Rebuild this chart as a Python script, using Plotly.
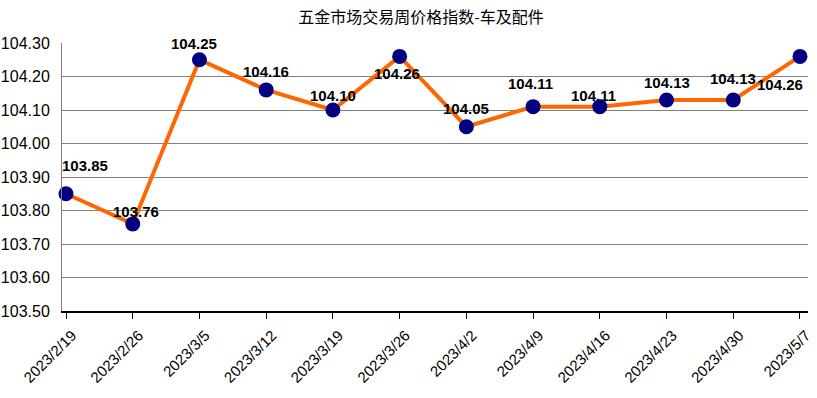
import plotly.graph_objects as go

dates = ["2023/2/19", "2023/2/26", "2023/3/5", "2023/3/12", "2023/3/19", "2023/3/26",
         "2023/4/2", "2023/4/9", "2023/4/16", "2023/4/23", "2023/4/30", "2023/5/7"]
values = [103.85, 103.76, 104.25, 104.16, 104.10, 104.26,
          104.05, 104.11, 104.11, 104.13, 104.13, 104.26]
y_ticks = [103.50, 103.60, 103.70, 103.80, 103.90, 104.00, 104.10, 104.20, 104.30]

# label offsets (pixels) relative to each point
label_dx = [19, 3, -5, 0, 0, -3, 0, -3, -6, 0, 0, -20]
label_dy = [28, 12, 16, 18, 15, -17, 18, 23, 11, 17, 21, -28]

xs = list(range(len(dates)))

fig = go.Figure()
fig.add_trace(go.Scatter(
    x=xs, y=values, mode="lines+markers",
    line=dict(color="#FF6600", width=4),
    marker=dict(color="#000080", size=15),
    hoverinfo="skip", showlegend=False, cliponaxis=False,
))

for i, v in enumerate(values):
    fig.add_annotation(
        x=xs[i], y=v, text=f"<b>{v:.2f}</b>", showarrow=False,
        xshift=label_dx[i], yshift=label_dy[i],
        font=dict(family="Liberation Sans, Arial", size=15, color="#000000"),
    )

fig.update_layout(
    width=817, height=398,
    margin=dict(l=62, r=9, t=43, b=87, autoexpand=False),
    paper_bgcolor="white", plot_bgcolor="white",
    title=dict(text="五金市场交易周价格指数-车及配件", x=421 / 817, xanchor="center",
               xref="container", y=1 - 17 / 398, yanchor="middle",
               font=dict(family="Noto Sans CJK SC", size=16, color="#000000")),
    xaxis=dict(
        tickmode="array", tickvals=xs, ticktext=dates, tickangle=-45,
        range=[-0.06, 11.12], showgrid=False, zeroline=False, automargin=False,
        showline=True, linecolor="#000000", linewidth=1.5,
        ticks="outside", ticklen=6, tickcolor="#000000",
        ticklabelshift=6, ticklabelstandoff=2, ticklabeloverflow="allow",
        tickfont=dict(family="Liberation Sans, Arial", size=15, color="#000000"),
    ),
    yaxis=dict(
        tickmode="array", tickvals=y_ticks, ticktext=[f"{t:.2f}" for t in y_ticks],
        range=[103.50, 104.30], showgrid=True, gridcolor="#808080", gridwidth=1,
        zeroline=False, showline=True, linecolor="#808080", linewidth=1,
        ticks="", ticklabelstandoff=8, automargin=False,
        tickfont=dict(family="Liberation Sans, Arial", size=16, color="#000000"),
    ),
)

fig.write_html("out.html", config={"displayModeBar": False},
               post_script="document.body.style.margin='0';")
